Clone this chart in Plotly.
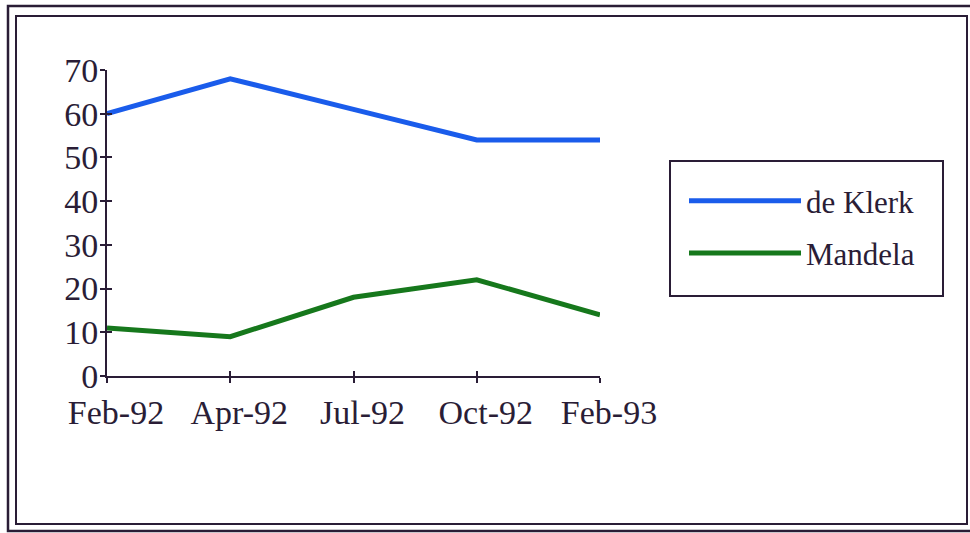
import plotly.graph_objects as go

months = ["Feb-92", "Apr-92", "Jul-92", "Oct-92", "Feb-93"]
de_klerk = [60, 68, 61, 54, 54]
mandela = [11, 9, 18, 22, 14]
y_ticks = [0, 10, 20, 30, 40, 50, 60, 70]

W, H = 970, 533
L, R, T, B = 107, 600, 70, 376  # plot area in pixels

INK = "#2a1d36"
FAMILY = "Liberation Serif, Times New Roman, serif"
FONT = dict(family=FAMILY, size=34, color=INK)

fig = go.Figure()
fig.add_trace(go.Scatter(x=months, y=de_klerk, mode="lines", name="de Klerk",
                         legendgroup="dk",
                         line=dict(color="#1a5ceb", width=5)))
fig.add_trace(go.Scatter(x=months, y=mandela, mode="lines", name="Mandela",
                         legendgroup="nm",
                         line=dict(color="#16781c", width=5)))


def px_x(p):
    return (p - L) / (R - L)


def px_y(p):
    return (B - p) / (B - T)


# double frame around the whole chart, plus the legend box
boxes = [(8, 6, 976, 531, 2.5), (16, 16, 967, 524, 2), (670, 161, 943, 296, 2)]
shapes = []
for x0, y0, x1, y1, w in boxes:
    shapes.append(dict(type="rect", xref="paper", yref="paper", layer="below",
                       x0=px_x(x0), x1=px_x(x1), y0=px_y(y1), y1=px_y(y0),
                       line=dict(color=INK, width=w), fillcolor="rgba(0,0,0,0)"))

axis_common = dict(showgrid=False, zeroline=False, showline=True,
                   linecolor=INK, linewidth=2, tickcolor=INK,
                   ticklen=5, tickwidth=2)

fig.update_layout(
    width=W, height=H,
    margin=dict(l=L, r=W - R, t=T, b=H - B),
    paper_bgcolor="white", plot_bgcolor="white",
    font=FONT,
    shapes=shapes,
    xaxis=dict(type="category", categoryorder="array", categoryarray=months,
               range=[0, len(months) - 1], ticks="outside",
               tickfont=FONT, ticklabelshift=9, **axis_common),
    yaxis=dict(range=[0, 70], tickvals=y_ticks, ticks="outside",
               tickfont=FONT, ticklabelstandoff=-5, **axis_common),
    # inner halves of the crossing tick marks
    xaxis2=dict(type="category", categoryorder="array", categoryarray=months,
                range=[0, len(months) - 1], overlaying="x", ticks="inside",
                showticklabels=False, anchor="y", **axis_common),
    yaxis2=dict(range=[0, 70], tickvals=y_ticks, overlaying="y", ticks="inside",
                showticklabels=False, anchor="x", **axis_common),
    legend=dict(x=px_x(674), y=px_y(174), xanchor="left", yanchor="top",
                borderwidth=0, bgcolor="rgba(0,0,0,0)",
                font=dict(family=FAMILY, size=31, color=INK),
                itemwidth=112, indentation=10, tracegroupgap=9),
)

# invisible trace to bring the overlay axes into the figure
fig.add_trace(go.Scatter(x=months, y=de_klerk, xaxis="x2", yaxis="y2",
                         mode="lines", line=dict(width=0), opacity=0,
                         showlegend=False, hoverinfo="skip"))

fig.write_html("out.html")
